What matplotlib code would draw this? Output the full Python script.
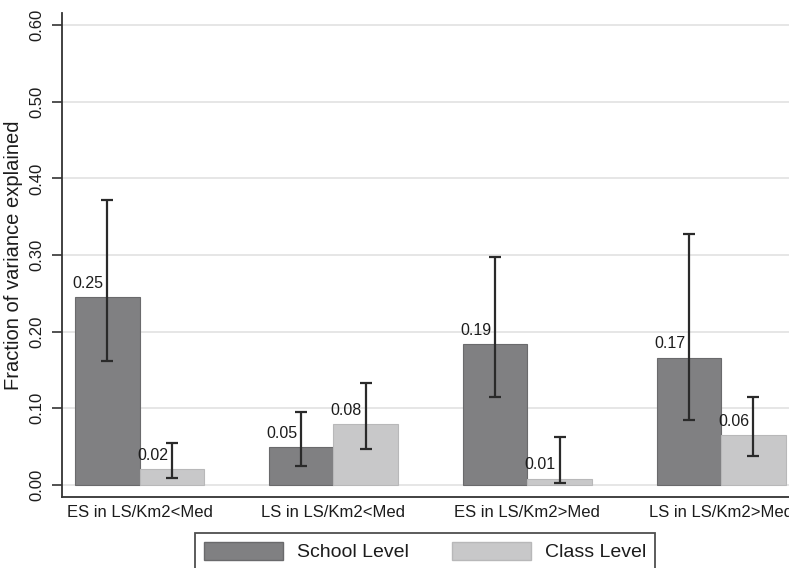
import numpy as np
import matplotlib
matplotlib.use('Agg')
import matplotlib.pyplot as plt
from matplotlib.patches import Patch

plt.rcParams['font.family'] = ['Liberation Sans', 'DejaVu Sans']

# data
groups = ['ES in LS/Km2<Med', 'LS in LS/Km2<Med', 'ES in LS/Km2>Med', 'LS in LS/Km2>Med']
school_vals = [0.245, 0.049, 0.184, 0.166]
school_lo = [0.162, 0.025, 0.115, 0.085]
school_hi = [0.372, 0.095, 0.298, 0.327]
school_text = ['0.25', '0.05', '0.19', '0.17']
class_vals = [0.021, 0.079, 0.008, 0.065]
class_lo = [0.009, 0.047, 0.002, 0.037]
class_hi = [0.054, 0.133, 0.062, 0.115]
class_text = ['0.02', '0.08', '0.01', '0.06']
yticks = [0.0, 0.1, 0.2, 0.3, 0.4, 0.5, 0.6]

school_col = '#808082'
class_col = '#c8c8c9'
txt_col = '#1c1c1c'

fig = plt.figure(figsize=(7.89, 5.68), dpi=100)
ax = fig.add_axes([62 / 789, 71 / 568, 1 - 62 / 789, (497 - 13) / 568])

x = np.arange(len(groups))
w = 1 / 3

for off, vals, lo, hi, labs, col, ec in [
        (-w / 2, school_vals, school_lo, school_hi, school_text, school_col, '#6a6a6c'),
        (w / 2, class_vals, class_lo, class_hi, class_text, class_col, '#b8b8b9')]:
    xs = x + off
    ax.bar(xs, vals, width=w, color=col, edgecolor=ec, linewidth=0.8, zorder=2)
    yerr = [np.array(vals) - np.array(lo), np.array(hi) - np.array(vals)]
    ax.errorbar(xs, vals, yerr=yerr, fmt='none', ecolor='#2a2a2a',
                elinewidth=1.6, capsize=4, capthick=1.6, zorder=3)
    for xi, v, s in zip(xs, vals, labs):
        ax.text(xi - 0.1, v + 0.008, s, ha='center', va='bottom',
                fontsize=11.5, color=txt_col, zorder=4)

ax.set_xlim(-0.40, 3.35)
ax.set_ylim(-0.016, 0.616)
ax.set_yticks(yticks)
ax.set_yticklabels([f'{t:.2f}' for t in yticks], rotation=90, va='center',
                   fontsize=12, color=txt_col)
ax.set_xticks(x)
ax.set_xticklabels(groups, fontsize=12, color=txt_col)
ax.tick_params(axis='x', length=0, pad=6)
ax.tick_params(axis='y', length=7, width=1.2, color='#333333', pad=6)
ax.set_ylabel('Fraction of variance explained', fontsize=14.5, color=txt_col, labelpad=4)

ax.yaxis.grid(True, color='#e4e4e4', linewidth=1.3, zorder=0)
ax.set_axisbelow(True)
for s in ['top', 'right']:
    ax.spines[s].set_visible(False)
for s in ['left', 'bottom']:
    ax.spines[s].set_color('#333333')
    ax.spines[s].set_linewidth(1.3)

handles = [Patch(facecolor=school_col, edgecolor='#6a6a6c', label='School Level'),
           Patch(facecolor=class_col, edgecolor='#b8b8b9', label='Class Level')]
leg = fig.legend(handles=handles, ncol=2, loc='upper left',
                 bbox_to_anchor=(195 / 789, (568 - 533) / 568), borderaxespad=0,
                 fontsize=14, handlelength=4.1, handleheight=1.05,
                 handletextpad=0.7, columnspacing=2.2, borderpad=0.45,
                 fancybox=False, frameon=True)
leg.get_frame().set_edgecolor('#222222')
leg.get_frame().set_linewidth(1.3)
for t in leg.get_texts():
    t.set_color(txt_col)

fig.savefig('out.png', dpi=100)
